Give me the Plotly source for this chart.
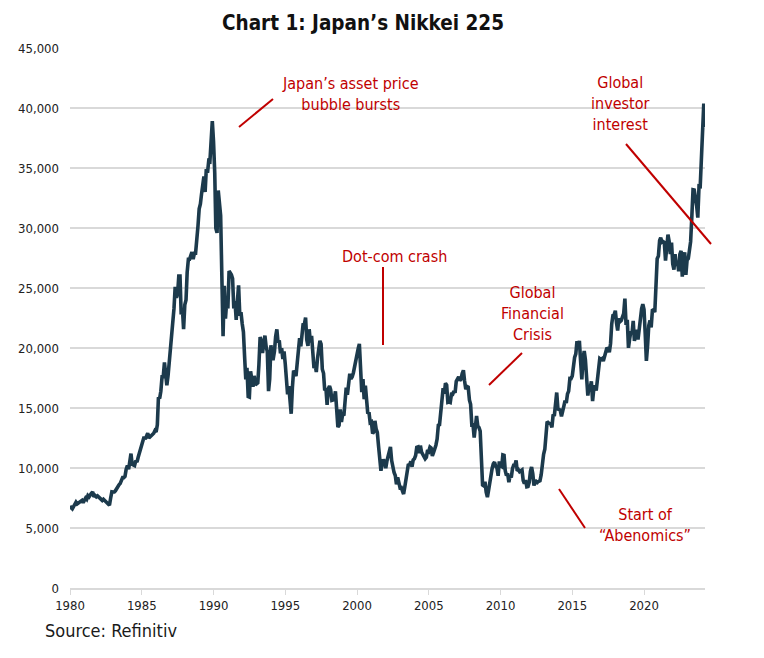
import pandas as pd
import plotly.graph_objects as go

# Monthly Nikkei 225 levels (Jan 1980 - Apr 2024)
nikkei_1980s = [
    6560, 6700, 6600, 6800, 7000, 7150, 7000, 7100, 7200, 7200, 7300, 7116,   # 1980
    7300, 7500, 7400, 7700, 7600, 7800, 7900, 8000, 7600, 7700, 7600, 7680,   # 1981
    7600, 7500, 7400, 7300, 7400, 7300, 7200, 7100, 7000, 6900, 7500, 8016,   # 1982
    8000, 8000, 8100, 8300, 8400, 8600, 8700, 9000, 9200, 9200, 9300, 9894,   # 1983
    10200, 9900, 10900, 11200, 10300, 10200, 10200, 10600, 10500, 10900, 11300, 11543,  # 1984
    11900, 12200, 12600, 12400, 12700, 12900, 12500, 12600, 12700, 12800, 12900, 13113,  # 1985
    13000, 13600, 15900, 15800, 16400, 17600, 17600, 18800, 17900, 16900, 17700, 18701,  # 1986
    20000, 20800, 21600, 23300, 25100, 24200, 24500, 26000, 26000, 22800, 23300, 21564,  # 1987
    23600, 24000, 26300, 27400, 27400, 27800, 28000, 27400, 27900, 27900, 29600, 30159,  # 1988
    31600, 32000, 32800, 33700, 34300, 33000, 34900, 34600, 35600, 35550, 37270, 38916,  # 1989
]
nikkei_1990s = [
    37190, 34590, 29980, 29590, 33130, 31940, 31040, 25980, 20980, 25190, 22450, 23849,  # 1990
    23290, 26410, 26290, 26110, 25790, 23290, 23900, 22340, 23920, 25220, 22690, 22984,  # 1991
    22020, 21340, 19350, 17390, 18350, 15950, 15910, 18060, 17400, 16770, 17680, 16925,  # 1992
    17020, 17100, 18590, 20920, 20550, 19590, 20380, 21030, 20110, 19700, 16410, 17417,  # 1993
    20230, 19110, 19110, 19730, 20970, 21550, 20450, 20630, 19560, 19990, 19080, 19723,  # 1994
    18650, 17050, 16140, 16810, 15440, 14520, 16680, 18120, 17910, 17650, 18740, 19868,  # 1995
    20810, 20130, 21400, 22040, 21960, 22530, 20690, 20170, 21560, 20470, 21020, 19361,  # 1996
    18330, 18560, 18000, 19150, 20070, 20600, 20330, 18230, 17890, 16460, 16630, 15259,  # 1997
    16630, 16830, 16530, 15640, 15670, 15830, 16380, 14110, 13410, 13560, 14880, 13842,  # 1998
    14500, 14370, 15840, 16700, 16110, 17530, 17860, 17440, 17600, 17940, 18560, 18934,  # 1999
]
nikkei_2000s = [
    19540, 19960, 20340, 17970, 16330, 17410, 15730, 16860, 15750, 14540, 14650, 13786,  # 2000
    13840, 12880, 13000, 13930, 13260, 12970, 11860, 10710, 9770, 10370, 10700, 10543,   # 2001
    9990, 10590, 11020, 11490, 11760, 10620, 10000, 9620, 9380, 8640, 9220, 8579,        # 2002
    8340, 8360, 7970, 7830, 8420, 9080, 9560, 10340, 10220, 10560, 10100, 10677,         # 2003
    10780, 11040, 11720, 11760, 11240, 11860, 11330, 11080, 10820, 10770, 10900, 11489,  # 2004
    11390, 11740, 11670, 11010, 11280, 11580, 11900, 12410, 13570, 13610, 14870, 16111,  # 2005
    16650, 16210, 17060, 16910, 15470, 15500, 15460, 16140, 16130, 16400, 16270, 17226,  # 2006
    17380, 17600, 17290, 17400, 17880, 18140, 17250, 16570, 16790, 16740, 15680, 15308,  # 2007
    13590, 13600, 12530, 13850, 14340, 13480, 13380, 13070, 11260, 8580, 8510, 8860,     # 2008
    7990, 7570, 8110, 8830, 9520, 9960, 10360, 10490, 10130, 10030, 9350, 10546,         # 2009
]
nikkei_2010s = [
    10200, 10130, 11090, 11060, 9770, 9380, 9540, 8820, 9370, 9200, 9940, 10229,         # 2010
    10240, 10620, 9760, 9850, 9690, 9820, 9830, 8960, 8700, 8990, 8430, 8455,            # 2011
    8800, 9720, 10080, 9520, 8540, 9010, 8700, 8840, 8870, 8930, 9450, 10395,            # 2012
    11140, 11560, 12400, 13860, 13770, 13680, 13670, 13390, 14460, 14330, 15660, 16291,  # 2013
    14910, 14840, 14830, 14300, 14630, 15160, 15620, 15420, 16170, 16410, 17460, 17451,  # 2014
    17670, 18800, 19210, 19520, 20560, 20240, 20590, 18890, 17390, 19080, 19750, 19034,  # 2015
    17520, 16030, 16760, 16670, 17230, 15580, 16570, 16890, 16450, 17430, 18310, 19114,  # 2016
    19040, 19120, 18910, 19200, 19650, 20030, 19930, 19650, 20360, 22010, 22720, 22765,  # 2017
    23100, 22070, 21450, 22470, 22200, 22300, 22550, 22870, 24120, 21920, 22350, 20015,  # 2018
    20770, 21390, 21210, 22260, 20600, 21280, 21520, 20700, 21760, 22930, 23290, 23657,  # 2019
]
nikkei_2020s = [
    23210, 21140, 18920, 20190, 21880, 22290, 21710, 23140, 23190, 22980, 26430, 27444,  # 2020
    27660, 28970, 29180, 28810, 28860, 28790, 27280, 28090, 29450, 28890, 27820, 28792,  # 2021
    27000, 26530, 27820, 26850, 27280, 26390, 27800, 28090, 25940, 27590, 27970, 26095,  # 2022
    27330, 27450, 28040, 28860, 30890, 33190, 33170, 32620, 31860, 30860, 33490, 33464,  # 2023
    36290, 39170, 40370, 38410,                                                          # 2024
]
values = nikkei_1980s + nikkei_1990s + nikkei_2000s + nikkei_2010s + nikkei_2020s
dates = pd.date_range("1980-01-01", periods=len(values), freq="MS")

title_text = "Chart 1: Japan\u2019s Nikkei 225"
source_text = "Source: Refinitiv"

RED = "#c00000"
LINE = "#1c3a4c"
GRID = "#d9d9d9"
FONT = "DejaVu Sans Condensed"

# page is drawn with an 8px body margin; figure coords = page coords - OFF
OFF = 8
W, H = 764 - OFF, 658 - OFF
L, R, T, B = 70 - OFF, 705 - OFF, 48 - OFF, 588 - OFF


def px(x):
    return (x - OFF - L) / (R - L)


def py(y):
    return (B - (y - OFF)) / (B - T)


fig = go.Figure()
fig.add_trace(go.Scatter(x=dates, y=values, mode="lines",
                         line=dict(color=LINE, width=3.6), hoverinfo="skip",
                         showlegend=False))

annotations = [
    dict(text="Japan\u2019s asset price<br>bubble bursts", x=350, y=94),
    dict(text="Dot-com crash", x=394, y=256),
    dict(text="Global<br>Financial<br>Crisis", x=532, y=313),
    dict(text="Start of<br>\u201cAbenomics\u201d", x=645, y=525),
    dict(text="Global<br>investor<br>interest", x=620, y=103),
]
ann = []
for a in annotations:
    ann.append(dict(text=a["text"], x=px(a["x"]), y=py(a["y"]), xref="paper", yref="paper",
                    showarrow=False, xanchor="center", yanchor="middle",
                    font=dict(family=FONT, size=16, color=RED), align="center"))
ann.append(dict(text=source_text, x=px(43), y=py(630), xref="paper", yref="paper",
                showarrow=False, xanchor="left", yanchor="middle",
                font=dict(family=FONT, size=18, color="#1a1a1a")))
# chart title as a paper annotation anchored at the top edge
ann.append(dict(text="<b>" + title_text + "</b>", x=px(363), y=py(9),
                xref="paper", yref="paper", showarrow=False,
                xanchor="center", yanchor="top",
                font=dict(family=FONT, size=20.5, color="#111111")))

connector_lines = [
    (239, 127, 273, 99),
    (383, 267, 383, 345),
    (489, 385, 522, 353),
    (559, 489, 585, 528),
    (626, 144, 711, 244),
]
shapes = []
for x0, y0, x1, y1 in connector_lines:
    shapes.append(dict(type="line", xref="paper", yref="paper",
                       x0=px(x0), y0=py(y0), x1=px(x1), y1=py(y1),
                       line=dict(color=RED, width=2)))

fig.update_layout(
    width=W, height=H,
    margin=dict(l=L, r=W - R, t=T, b=H - B, autoexpand=False),
    paper_bgcolor="white", plot_bgcolor="white",
    font=dict(family=FONT, size=13, color="#222222"),
    xaxis=dict(type="date", range=[dates[0], dates[-1]], tick0="1980-01-01",
               dtick="M60", tickformat="%Y", showgrid=False, showline=True,
               linecolor=GRID, linewidth=1.5, ticks="outside", tickcolor=GRID,
               ticklen=5, automargin=False,
               tickfont=dict(family=FONT, size=13, color="#222222")),
    yaxis=dict(range=[0, 45000], dtick=5000, tickformat=",", showgrid=True,
               gridcolor=GRID, gridwidth=1.5, zeroline=False, ticks="",
               ticklabelstandoff=10, automargin=False,
               tickfont=dict(family=FONT, size=13, color="#222222")),
    annotations=ann,
    shapes=shapes,
)
fig.write_html("out.html")
